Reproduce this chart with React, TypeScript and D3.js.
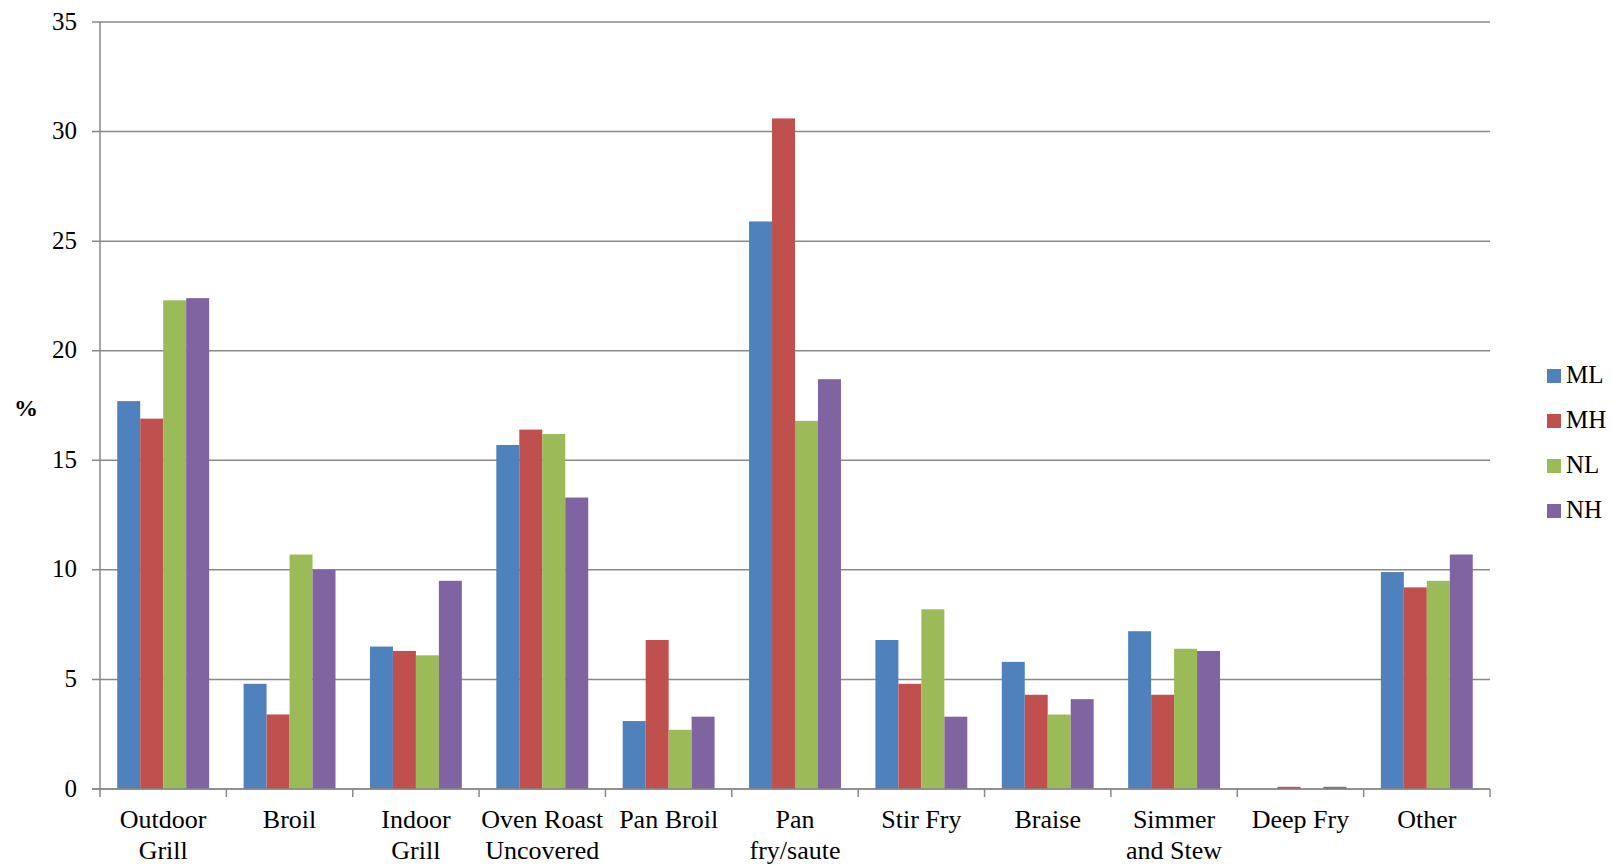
import React from "react";
import * as d3 from "d3";

const categories: string[][] = [
  ["Outdoor", "Grill"],
  ["Broil"],
  ["Indoor", "Grill"],
  ["Oven Roast", "Uncovered"],
  ["Pan Broil"],
  ["Pan", "fry/saute"],
  ["Stir Fry"],
  ["Braise"],
  ["Simmer", "and Stew"],
  ["Deep Fry"],
  ["Other"],
];
const seriesNames = ["ML", "MH", "NL", "NH"];
const seriesColors = ["#4F81BD", "#C0504D", "#9BBB59", "#8064A2"];
const ML = [17.7, 4.8, 6.5, 15.7, 3.1, 25.9, 6.8, 5.8, 7.2, 0, 9.9];
const MH = [16.9, 3.4, 6.3, 16.4, 6.8, 30.6, 4.8, 4.3, 4.3, 0.1, 9.2];
const NL = [22.3, 10.7, 6.1, 16.2, 2.7, 16.8, 8.2, 3.4, 6.4, 0, 9.5];
const NH = [22.4, 10.0, 9.5, 13.3, 3.3, 18.7, 3.3, 4.1, 6.3, 0.1, 10.7];
const yTicks = [0, 5, 10, 15, 20, 25, 30, 35];

const W = 1612;
const H = 866;
const left = 100;
const right = 1490;
const top = 22;
const bottom = 789;
const FONT = "Liberation Serif";

export default function App() {
  const series = [ML, MH, NL, NH];
  const idx = categories.map((_, i) => String(i));
  const x = d3.scaleBand<string>().domain(idx).range([left, right]).paddingInner(0).paddingOuter(0);
  const y = d3.scaleLinear().domain([0, 35]).range([bottom, top]);
  const bw = x.bandwidth();
  const inner = d3
    .scaleBand<string>()
    .domain(seriesNames)
    .range([bw * (0.75 / 5.5), bw - bw * (0.75 / 5.5)])
    .padding(0);
  const grid = "#898989";
  const ts = { fontFamily: FONT };

  return (
    <svg
      width={W}
      height={H}
      style={{ position: "absolute", left: 0, top: 0, background: "#fff", fontFamily: FONT }}
    >
      {yTicks.map((t) => (
        <g key={t}>
          <line x1={left - 8} x2={right} y1={y(t)} y2={y(t)} stroke={grid} strokeWidth={1.5} />
          <text x={77} y={y(t)} dy="0.3em" textAnchor="end" fontSize={25} fill="#000" style={ts}>
            {t}
          </text>
        </g>
      ))}
      {categories.map((c, i) => {
        const x0 = x(String(i))!;
        return (
          <g key={i}>
            {series.map((s, j) => (
              <rect
                key={j}
                x={x0 + inner(seriesNames[j])!}
                y={y(s[i])}
                width={inner.bandwidth()}
                height={bottom - y(s[i])}
                fill={seriesColors[j]}
              />
            ))}
          </g>
        );
      })}
      <line x1={left} x2={left} y1={top} y2={bottom} stroke={grid} strokeWidth={1.5} />
      <line x1={left - 8} x2={right} y1={bottom} y2={bottom} stroke={grid} strokeWidth={1.5} />
      {d3.range(categories.length + 1).map((i) => {
        const xx = left + i * bw;
        return <line key={i} x1={xx} x2={xx} y1={bottom} y2={bottom + 8} stroke={grid} strokeWidth={1.5} />;
      })}
      {categories.map((c, i) => (
        <text key={i} x={x(String(i))! + bw / 2} textAnchor="middle" fontSize={26} fill="#000" style={ts}>
          {c.map((line, k) => (
            <tspan key={k} x={x(String(i))! + bw / 2} y={828 + k * 31}>
              {line}
            </tspan>
          ))}
        </text>
      ))}
      <text x={26} y={408} dy="0.35em" textAnchor="middle" fontSize={24} fontWeight="bold" fill="#000" style={ts}>
        %
      </text>
      {seriesNames.map((n, j) => (
        <g key={n}>
          <rect x={1547} y={376 + j * 45 - 7} width={14} height={14} fill={seriesColors[j]} />
          <text x={1566} y={374 + j * 45} dy="0.35em" fontSize={25} fill="#000" style={ts}>
            {n}
          </text>
        </g>
      ))}
    </svg>
  );
}
